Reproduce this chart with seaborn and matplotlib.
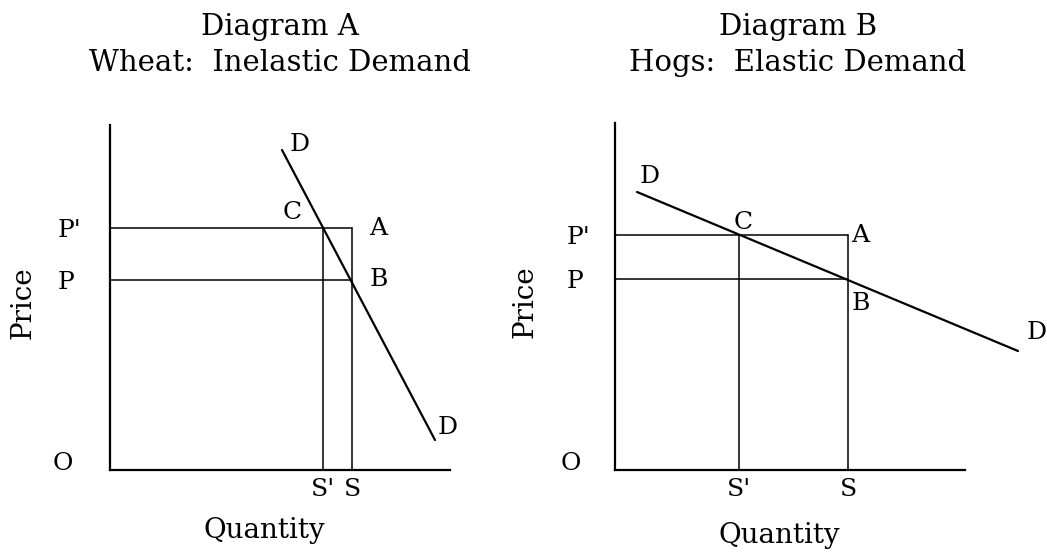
import numpy as np
import pandas as pd
import seaborn as sns
import matplotlib.pyplot as plt

# Diagram A - wheat, inelastic demand
wheat_prices = [19.0, 24.2]            # P, P'
wheat_price_labels = ["P", "P'"]
wheat_quantities = [21.3, 24.2]        # S', S
wheat_quantity_labels = ["S'", "S"]
wheat_demand_q = [17.2, 32.5]
wheat_demand_p = [32.0, 3.0]

# Diagram B - hogs, elastic demand
hog_prices = [19.1, 23.5]
hog_price_labels = ["P", "P'"]
hog_quantities = [12.4, 23.3]
hog_quantity_labels = ["S'", "S"]
hog_demand_q = [2.2, 40.3]
hog_demand_p = [27.8, 11.9]

sns.set_theme(style="white")
plt.rcParams['font.family'] = ['DejaVu Serif']
plt.rcParams['text.color'] = 'black'
plt.rcParams['axes.labelcolor'] = 'black'
plt.rcParams['xtick.color'] = 'black'
plt.rcParams['ytick.color'] = 'black'
FS = 18        # point / tick letters
LFS = 20       # axis words
TFS = 21       # titles


def guide_lines(prices, quantities):
    p_low, p_high = prices
    q_low, q_high = quantities
    rows = [
        ("p_high", 0, p_high), ("p_high", q_high, p_high),
        ("p_low", 0, p_low), ("p_low", q_high, p_low),
        ("s_low", q_low, 0), ("s_low", q_low, p_high),
        ("s_high", q_high, 0), ("s_high", q_high, p_high),
    ]
    return pd.DataFrame(rows, columns=["seg", "q", "p"])


def draw(ax, prices, price_labels, quantities, quantity_labels, dq, dp,
         xlim, ylim, ypad, offsets, xlab, ylab):
    sns.lineplot(data=guide_lines(prices, quantities), x="q", y="p", units="seg",
                 estimator=None, sort=False, color="black", lw=1.1, ax=ax)
    demand = pd.DataFrame({"q": dq, "p": dp})
    sns.lineplot(data=demand, x="q", y="p", estimator=None, sort=False,
                 color="black", lw=1.6, ax=ax)
    for line in ax.lines:
        line.set_clip_on(False)

    ax.set_xlim(*xlim)
    ax.set_ylim(*ylim)
    sns.despine(ax=ax)
    for side in ["left", "bottom"]:
        ax.spines[side].set_color("black")
        ax.spines[side].set_linewidth(1.6)

    ax.set_yticks(prices, price_labels)
    ax.set_xticks(quantities, quantity_labels)
    ax.tick_params(axis="y", length=0, pad=ypad, labelsize=FS)
    ax.tick_params(axis="x", length=0, pad=6, labelsize=FS)
    for t in ax.get_yticklabels():
        t.set_ha("left")

    # point labels
    pts = {
        "Dtop": (dq[0], dp[0]),
        "C": (quantities[0], prices[1]),
        "A": (quantities[1], prices[1]),
        "B": (quantities[1], prices[0]),
        "Dbot": (dq[1], dp[1]),
        "O": (0, 0),
    }
    for key, (dx, dy, ha) in offsets.items():
        ax.annotate(key[0], xy=pts[key], xytext=(dx, dy), textcoords="offset points",
                    ha=ha, va="center", fontsize=FS, annotation_clip=False)

    ax.set_xlabel("Quantity", fontsize=LFS)
    ax.set_ylabel("Price", fontsize=LFS)
    ax.xaxis.set_label_coords(*xlab)
    ax.yaxis.set_label_coords(*ylab)


fig = plt.figure(figsize=(10.47, 5.54), dpi=100)
ax1 = fig.add_axes([110 / 1047, 84 / 554, 340 / 1047, 345 / 554])
ax2 = fig.add_axes([615 / 1047, 84 / 554, 350 / 1047, 347 / 554])

draw(ax1, wheat_prices, wheat_price_labels, wheat_quantities, wheat_quantity_labels,
     wheat_demand_q, wheat_demand_p, (0, 34), (0, 34.5), 38,
     {"Dtop": (13, 4, "center"), "C": (-22, 11, "center"), "A": (19, 0, "center"),
      "B": (19, 0, "center"), "Dbot": (9, 9, "center"), "O": (-34, 5, "center")},
     (0.453, -0.135), (-0.215, 0.484))

draw(ax2, hog_prices, hog_price_labels, hog_quantities, hog_quantity_labels,
     hog_demand_q, hog_demand_p, (0, 35), (0, 34.7), 35,
     {"Dtop": (9, 11, "center"), "C": (3, 9, "center"), "A": (9, 0, "center"),
      "B": (9, -18, "center"), "Dbot": (6, 13, "left"), "O": (-32, 5, "center")},
     (0.469, -0.15), (-0.22, 0.484))

fig.text(280 / 1047, 1 - 27 / 554, "Diagram A", ha="center", va="center", fontsize=TFS)
fig.text(280 / 1047, 1 - 63 / 554, "Wheat:  Inelastic Demand", ha="center", va="center", fontsize=TFS)
fig.text(798 / 1047, 1 - 27 / 554, "Diagram B", ha="center", va="center", fontsize=TFS)
fig.text(798 / 1047, 1 - 63 / 554, "Hogs:  Elastic Demand", ha="center", va="center", fontsize=TFS)

fig.savefig("out.png", dpi=100)
